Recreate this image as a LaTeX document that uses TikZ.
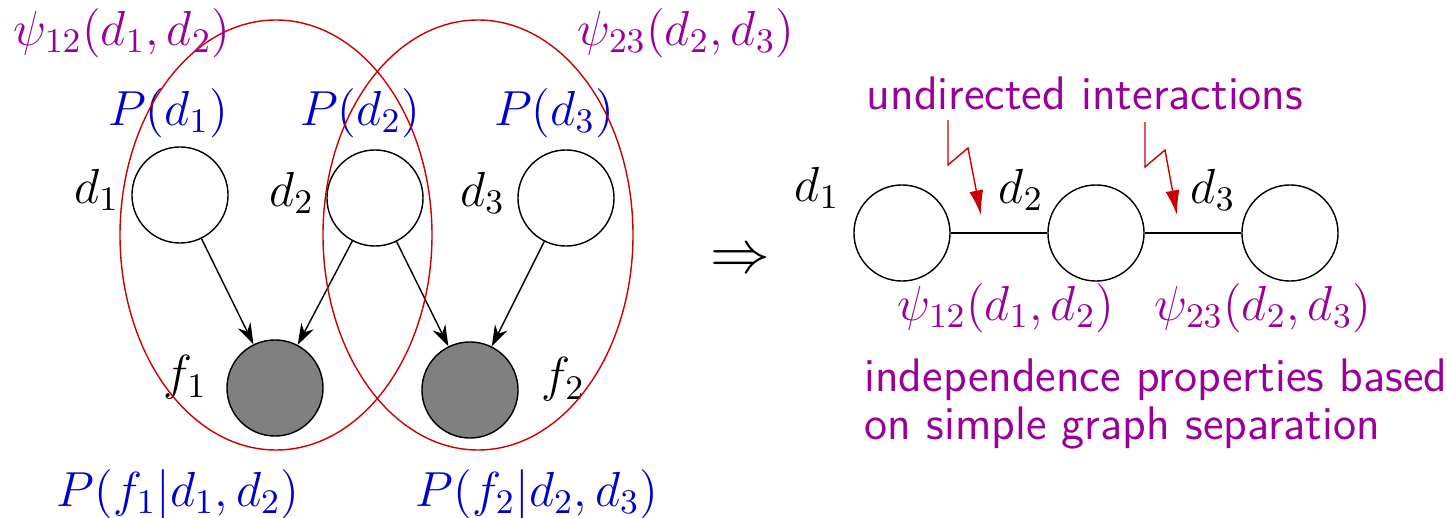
\RequirePackage{fix-cm}
\documentclass[tikz,border=0pt]{standalone}
\usepackage{amsmath,amssymb}
\usepackage{tikz}
\usetikzlibrary{arrows.meta,positioning,calc}
\definecolor{potential}{RGB}{153,0,153}
\definecolor{prob}{RGB}{0,0,204}
\definecolor{clique}{RGB}{204,0,0}

\begin{document}
\begin{tikzpicture}[x=0.01cm, y=-0.01cm,
  var/.style={circle, draw, minimum size=0.96cm, inner sep=0pt},
  fac/.style={var, fill=black!50},
  arrow/.style={-{Stealth[length=6pt,width=4pt]}},
  zap/.style={draw=clique, -{Latex[length=7pt,width=4pt]}, fill=none},
  lbl/.style={font=\fontsize{14}{16}\selectfont},
  plbl/.style={lbl, text=prob},
  psilbl/.style={lbl, text=potential},
  txt/.style={text=potential, font=\fontsize{13.4}{13.7}\selectfont\sffamily}
]
  \useasboundingbox (0,0) rectangle (1447,518);

  % -- directed model --
  \node[var] (d1) at (180,195) {};
  \node[var] (d2) at (375,198) {};
  \node[var] (d3) at (566,198) {};
  \node[fac] (f1) at (275,388) {};
  \node[fac] (f2) at (470,390) {};

  \node[lbl, left=0pt of d1, yshift=1.5pt] (ld1) {$d_1$};
  \node[lbl, left=0pt of d2, yshift=1.5pt] (ld2) {$d_2$};
  \node[lbl, left=0pt of d3, yshift=1.5pt] (ld3) {$d_3$};
  \node[lbl, left=2pt of f1, yshift=3pt] (lf1) {$f_1$};
  \node[lbl, right=3pt of f2, yshift=3pt] (lf2) {$f_2$};

  \node[plbl] (pd1) at (168,113) {$P(d_1)$};
  \node[plbl] (pd2) at (360,113) {$P(d_2)$};
  \node[plbl] (pd3) at (554,113) {$P(d_3)$};
  \node[plbl] (pf1) at (178,494) {$P(f_1|d_1,d_2)$};
  \node[plbl] (pf2) at (537,494) {$P(f_2|d_2,d_3)$};

  \draw[arrow] (d1) -- (f1);
  \draw[arrow] (d2) -- (f1);
  \draw[arrow] (d2) -- (f2);
  \draw[arrow] (d3) -- (f2);

  % cliques
  \draw[clique] (276,235) ellipse [x radius=156, y radius=215];
  \draw[clique] (478,235) ellipse [x radius=155, y radius=215];
  \node[psilbl] (psi12) at (122,33) {$\psi_{12}(d_1,d_2)$};
  \node[psilbl] (psi23) at (686,33) {$\psi_{23}(d_2,d_3)$};

  \node[font=\fontsize{17}{20}\selectfont] (impl) at (740,262) {$\Rightarrow$};

  % -- undirected model --
  \node[var] (u1) at (902,233) {};
  \node[var] (u2) at (1096,233) {};
  \node[var] (u3) at (1290,233) {};
  \draw (u1) -- (u2);
  \draw (u2) -- (u3);

  \node[lbl] (lu1) at (817,188) {$d_1$};
  \node[lbl] (lu2) at (1021,190) {$d_2$};
  \node[lbl] (lu3) at (1213,190) {$d_3$};
  \node[psilbl] (e12) at (1006,308) {$\psi_{12}(d_1,d_2)$};
  \node[psilbl] (e23) at (1263,308) {$\psi_{23}(d_2,d_3)$};

  \node[txt] (undir) at (1085,93) {undirected interactions};
  \coordinate (z1) at (948,120);
  \coordinate (t1) at (981,215);
  \coordinate (z2) at (1145,122);
  \coordinate (t2) at (1177,215);
  \draw[zap] (z1) -- ++(0,45) -- ++(20,-17) -- (t1);
  \draw[zap] (z2) -- ++(0,45) -- ++(20,-17) -- (t2);

  \node[txt, anchor=west, align=left] (indep) at (852,404)
    {independence properties based\\on simple graph separation};
\end{tikzpicture}
\end{document}
